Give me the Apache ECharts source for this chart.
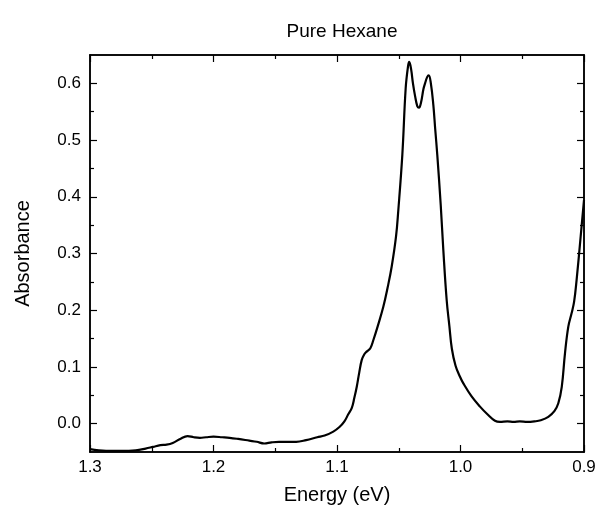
<!DOCTYPE html>
<html>
<head>
<meta charset="utf-8">
<script src="https://cdn.jsdelivr.net/npm/echarts@6/dist/echarts.min.js"></script>
<style>
html,body{margin:0;padding:0;background:#fff;}
#chart{width:600px;height:516px;}
</style>
</head>
<body>
<div id="chart"></div>
<script>
var energy = [1.300,1.287,1.275,1.263,1.255,1.249,1.243,1.238,1.233,1.227,1.221,1.216,1.211,1.206,1.200,1.193,1.187,1.180,1.171,1.165,1.159,1.153,1.147,1.140,1.133,1.125,1.116,1.110,1.103,1.098,1.094,1.091,1.088,1.086,1.084,1.082,1.080,1.078,1.076,1.073,1.0706,1.067,1.0625,1.059,1.0557,1.0522,1.0504,1.0471,1.0444,1.0425,1.0415,1.0400,1.0385,1.0368,1.0350,1.0336,1.0320,1.0300,1.0287,1.0270,1.0257,1.0240,1.0220,1.0205,1.0188,1.0160,1.0139,1.0112,1.0090,1.0070,1.0040,1.0005,0.9977,0.991,0.9842,0.978,0.9721,0.968,0.962,0.957,0.952,0.946,0.940,0.935,0.9289,0.924,0.9208,0.918,0.9154,0.9127,0.910,0.908,0.906,0.9027,0.900];
var absorbance = [-0.045,-0.048,-0.048,-0.047,-0.044,-0.041,-0.038,-0.037,-0.034,-0.027,-0.022,-0.024,-0.025,-0.024,-0.023,-0.024,-0.025,-0.027,-0.030,-0.032,-0.035,-0.033,-0.032,-0.032,-0.032,-0.029,-0.024,-0.021,-0.014,-0.006,0.004,0.016,0.028,0.045,0.065,0.090,0.112,0.122,0.127,0.133,0.147,0.172,0.206,0.240,0.277,0.330,0.375,0.474,0.591,0.630,0.638,0.625,0.600,0.578,0.560,0.557,0.566,0.590,0.600,0.611,0.614,0.600,0.562,0.520,0.474,0.385,0.306,0.218,0.172,0.132,0.102,0.083,0.071,0.048,0.030,0.016,0.005,0.003,0.004,0.003,0.004,0.003,0.004,0.006,0.012,0.022,0.036,0.065,0.124,0.171,0.195,0.215,0.253,0.330,0.394];
var xMajorTicks = [1.3,1.2,1.1,1.0,0.9];
var xMinorTicks = [1.25,1.15,1.05,0.95];
var yMajorTicks = [0.0,0.1,0.2,0.3,0.4,0.5,0.6];
var yMinorTicks = [0.05,0.15,0.25,0.35,0.45,0.55];
var xRange = [0.9,1.3];
var yRange = [-0.05,0.65];

var FONT = '"Liberation Sans", Arial, sans-serif';
var data = energy.map(function(e,i){return [e, absorbance[i]];});

function xAx(pos, ticks, len, labels, extra){
  var o = {
    type:'value', position:pos, inverse:true, min:xRange[0], max:xRange[1],
    axisLine:{show:true, onZero:false, lineStyle:{color:'#000', width:1.5}},
    axisTick:{show:true, inside:true, length:len, customValues:ticks, lineStyle:{color:'#000', width:1.2}},
    axisLabel:{show:labels, customValues:ticks, formatter:function(v){return v.toFixed(1);}, color:'#000', fontSize:17, fontFamily:FONT, margin:7},
    splitLine:{show:false}
  };
  for (var k in extra) o[k]=extra[k];
  return o;
}
function yAx(pos, ticks, len, labels, extra){
  var o = {
    type:'value', position:pos, min:yRange[0], max:yRange[1],
    axisLine:{show:true, onZero:false, lineStyle:{color:'#000', width:1.5}},
    axisTick:{show:true, inside:true, length:len, customValues:ticks, lineStyle:{color:'#000', width:1.2}},
    axisLabel:{show:labels, customValues:ticks, formatter:function(v){return v.toFixed(1);}, color:'#000', fontSize:17, fontFamily:FONT, margin:9},
    splitLine:{show:false}
  };
  for (var k in extra) o[k]=extra[k];
  return o;
}

var chart = echarts.init(document.getElementById('chart'), null, {renderer:'canvas'});
chart.setOption({
  animation:false,
  backgroundColor:'#fff',
  title:{text:'Pure Hexane', left:337, top:17, textAlign:'center',
    textStyle:{fontFamily:FONT, fontSize:19, fontWeight:'normal', color:'#000'}},
  grid:{left:90, right:16, top:55, bottom:64, containLabel:false},
  xAxis:[
    xAx('bottom', xMajorTicks, 7, true, {name:'Energy (eV)', nameLocation:'middle', nameGap:33,
      nameTextStyle:{fontFamily:FONT, fontSize:20, color:'#000'}}),
    xAx('bottom', xMinorTicks, 4, false, {}),
    xAx('top', xMajorTicks, 7, false, {}),
    xAx('top', xMinorTicks, 4, false, {})
  ],
  yAxis:[
    yAx('left', yMajorTicks, 7, true, {name:'Absorbance', nameLocation:'middle', nameGap:57,
      nameTextStyle:{fontFamily:FONT, fontSize:20, color:'#000'}}),
    yAx('left', yMinorTicks, 4, false, {}),
    yAx('right', yMajorTicks, 7, false, {}),
    yAx('right', yMinorTicks, 4, false, {})
  ],
  series:[{
    type:'line', xAxisIndex:0, yAxisIndex:0, data:data,
    showSymbol:false, smooth:0.4,
    lineStyle:{color:'#000', width:2.2}
  }]
});
</script>
</body>
</html>
